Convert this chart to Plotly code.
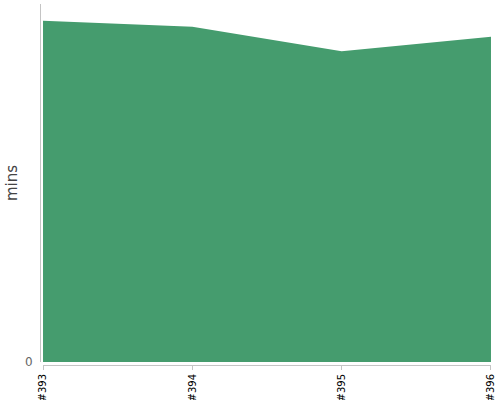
import plotly.graph_objects as go

categories = ["#393", "#394", "#395", "#396"]
mins_values = [57.2, 56.2, 52.1, 54.5]
y_ticks = [0]

fig = go.Figure()
fig.add_trace(go.Scatter(
    x=categories, y=mins_values, mode="lines", fill="tozeroy",
    line=dict(color="#459c6e", width=0), fillcolor="#459c6e",
    hoverinfo="x+y",
))
fig.update_layout(
    width=500, height=400,
    margin=dict(l=40, r=9, t=4, b=35, autoexpand=False),
    paper_bgcolor="white", plot_bgcolor="white",
    showlegend=False,
    font=dict(family="DejaVu Sans, sans-serif"),
    xaxis=dict(
        type="category", range=[0, 3.0001], domain=[0.0067, 1],
        anchor="free", position=0, automargin=False,
        showgrid=False, zeroline=False,
        showline=True, linecolor="#c4c4c4", linewidth=1,
        ticks="outside", ticklen=4, tickcolor="#c4c4c4",
        tickangle=-90, tickfont=dict(size=10, color="#000000"),
    ),
    yaxis=dict(
        range=[0, 60], domain=[0.0083, 1],
        anchor="free", position=0, automargin=False,
        tickvals=y_ticks, ticktext=["0"],
        showgrid=False, zeroline=False,
        showline=True, linecolor="#c4c4c4", linewidth=1,
        ticks="", ticklabelstandoff=5,
        tickfont=dict(size=12, color="#666666"),
        title=dict(text="mins", font=dict(size=15, color="#444444"), standoff=2),
    ),
)
fig.write_html(
    "out.html",
    config={"displayModeBar": False},
    post_script="document.body.style.margin='0';document.body.style.overflow='hidden';",
)
